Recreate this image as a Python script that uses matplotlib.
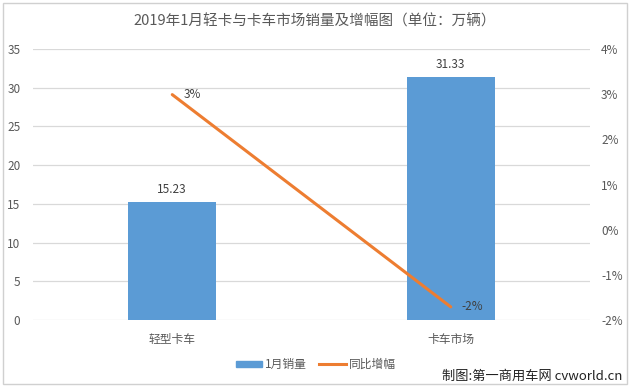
import matplotlib
matplotlib.use("Agg")
import matplotlib.pyplot as plt
from matplotlib.patches import Rectangle
from matplotlib.lines import Line2D
from matplotlib.ticker import FuncFormatter

plt.rcParams['font.family'] = ['Noto Sans CJK SC', 'DejaVu Sans']

categories = ['轻型卡车', '卡车市场']
sales = [15.23, 31.33]
growth = [2.99, -1.71]
growth_labels = ['3%', '-2%']
title = '2019年1月轻卡与卡车市场销量及增幅图（单位：万辆）'
legend_labels = ['1月销量', '同比增幅']
watermark = '制图:第一商用车网 cvworld.cn'

W, H = 629, 389
fig = plt.figure(figsize=(W / 100, H / 100), dpi=100)
fig.patch.set_facecolor('white')

bar_color = '#5b9bd5'
line_color = '#ed7d31'
text_gray = '#595959'
grid_gray = '#d9d9d9'

L, R, T, B = 33, 590, 49, 320
ax = fig.add_axes([L / W, 1 - B / H, (R - L) / W, (B - T) / H])
x = list(range(len(categories)))
ax.bar(x, sales, width=0.315, color=bar_color, zorder=2)
ax.set_xlim(-0.5, 1.5)
ax.set_ylim(0, 35)
ax.set_yticks(range(0, 36, 5))
ax.grid(axis='y', color=grid_gray, linewidth=0.9, zorder=0)
for s in ax.spines.values():
    s.set_visible(False)
ax.tick_params(axis='both', length=0, colors=text_gray, labelsize=8.5)
ax.tick_params(axis='y', pad=9)
ax.tick_params(axis='x', pad=9)
ax.set_xticks(x)
ax.set_xticklabels(categories, fontsize=8.5, color=text_gray)
for xi, v in zip(x, sales):
    ax.annotate(f'{v:.2f}', (xi, v), xytext=(0, 9), textcoords='offset points',
                ha='center', va='center', fontsize=8.5, color='#404040')

ax2 = ax.twinx()
ax2.set_ylim(-2, 4)
ax2.set_yticks(range(-2, 5))
ax2.yaxis.set_major_formatter(FuncFormatter(lambda v, p: f'{int(v)}%'))
for s in ax2.spines.values():
    s.set_visible(False)
ax2.tick_params(axis='y', length=0, colors=text_gray, labelsize=8.5, pad=8)
ax2.plot(x, growth, color=line_color, linewidth=2.2, solid_capstyle='round', zorder=3)
for xi, v, lab in zip(x, growth, growth_labels):
    ax2.annotate(lab, (xi, v), xytext=(8, 0), textcoords='offset points',
                 ha='left', va='center', fontsize=8.5, color='#404040')

fig.text(0.5, 1 - 21 / H, title, ha='center', va='center', fontsize=10.5, color=text_gray)

# legend
fig.patches.append(Rectangle((236 / W, 1 - 367 / H), 26 / W, 6 / H,
                             transform=fig.transFigure, color=bar_color))
fig.text(265 / W, 1 - 364 / H, legend_labels[0], ha='left', va='center', fontsize=8.5, color=text_gray)
fig.lines.append(Line2D([319 / W, 346 / W], [1 - 364 / H, 1 - 364 / H],
                        transform=fig.transFigure, color=line_color, linewidth=2.2))
fig.text(349 / W, 1 - 364 / H, legend_labels[1], ha='left', va='center', fontsize=8.5, color=text_gray)

fig.text(622 / W, 1 - 376 / H, watermark, ha='right', va='center', fontsize=9.5, color='#222222')

# chart border
fig.patches.append(Rectangle((2.5 / W, 1 - 384 / H), 624 / W, 381 / H, transform=fig.transFigure,
                             fill=False, edgecolor='#d0d0d0', linewidth=1))

fig.savefig('out.png', dpi=100)
